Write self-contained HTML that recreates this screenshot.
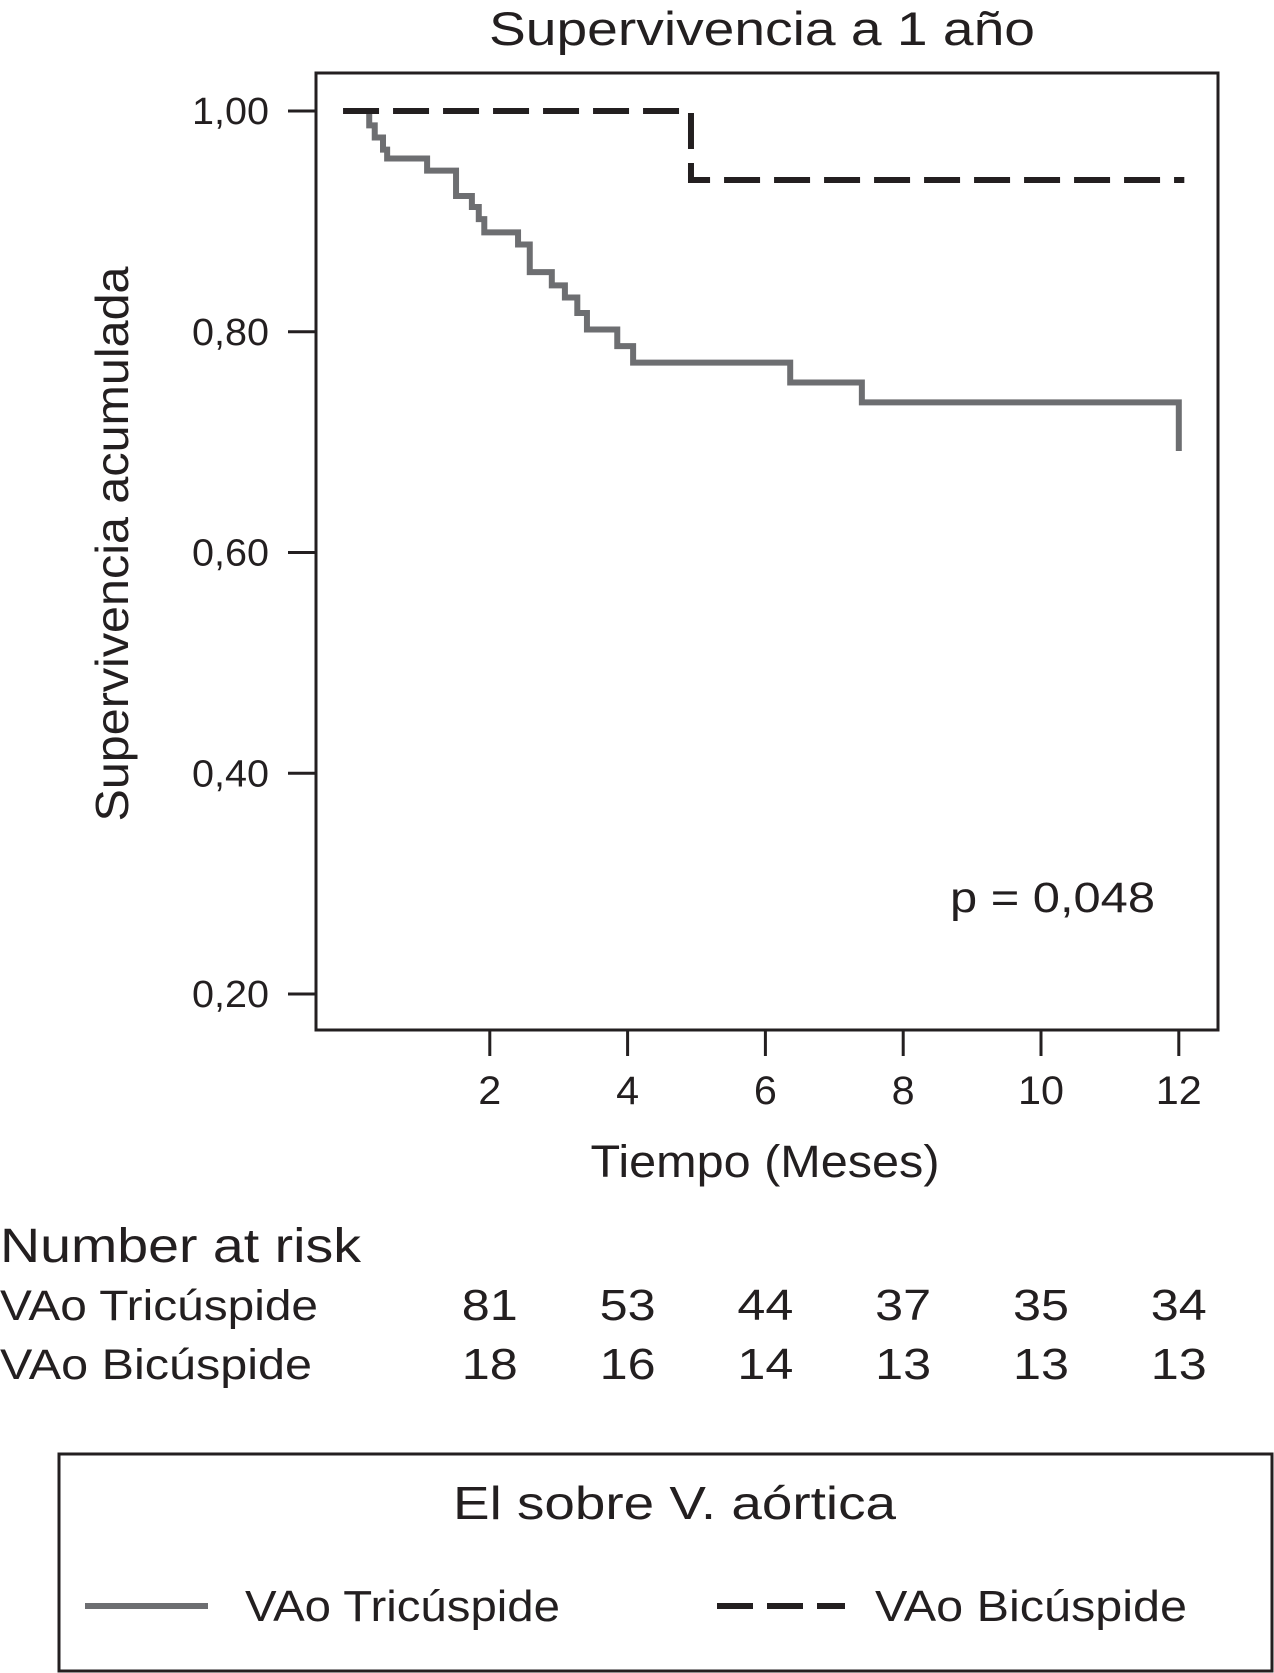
<!DOCTYPE html>
<html><head><meta charset="utf-8"><style>
body{margin:0;background:#fff;}
svg{display:block;font-family:"Liberation Sans",Arial,sans-serif;}
</style></head><body>
<svg width="1274" height="1673" viewBox="0 0 1274 1673">
<text x="762" y="45" font-size="47" text-anchor="middle" textLength="546" lengthAdjust="spacingAndGlyphs" fill="#231f20">Supervivencia a 1 año</text>
<rect x="316" y="73" width="902" height="957" fill="none" stroke="#231f20" stroke-width="3"/>
<g id="yaxis"></g>
<g id="xaxis"></g>
<text transform="translate(128,544) rotate(-90)" font-size="46" text-anchor="middle" textLength="555" lengthAdjust="spacingAndGlyphs" fill="#231f20">Supervivencia acumulada</text>
<text x="765" y="1177" font-size="45" text-anchor="middle" textLength="349" lengthAdjust="spacingAndGlyphs" fill="#231f20">Tiempo (Meses)</text>
<path id="tri" fill="none" stroke="#6d6e71" stroke-width="6"/>
<path id="bic" fill="none" stroke="#231f20" stroke-width="6" stroke-dasharray="36,14"/>
<text x="950" y="912" font-size="43" textLength="205" lengthAdjust="spacingAndGlyphs" fill="#231f20">p = 0,048</text>
<text x="0" y="1262" font-size="48" textLength="361" lengthAdjust="spacingAndGlyphs" fill="#231f20">Number at risk</text>
<text x="0" y="1320" font-size="43" textLength="318" lengthAdjust="spacingAndGlyphs" fill="#231f20">VAo Tricúspide</text>
<text x="0" y="1379" font-size="43" textLength="312" lengthAdjust="spacingAndGlyphs" fill="#231f20">VAo Bicúspide</text>
<g id="risk"></g>
<rect x="59" y="1454" width="1213" height="217" fill="none" stroke="#231f20" stroke-width="3"/>
<text x="453" y="1519" font-size="46" textLength="443" lengthAdjust="spacingAndGlyphs" fill="#231f20">El sobre V. aórtica</text>
<line x1="85" y1="1606" x2="208" y2="1606" stroke="#6d6e71" stroke-width="6"/>
<text x="245" y="1621" font-size="44" textLength="315" lengthAdjust="spacingAndGlyphs" fill="#231f20">VAo Tricúspide</text>
<line x1="717" y1="1606" x2="845" y2="1606" stroke="#231f20" stroke-width="6" stroke-dasharray="36,14"/>
<text x="875" y="1621" font-size="44" textLength="312" lengthAdjust="spacingAndGlyphs" fill="#231f20">VAo Bicúspide</text>
</svg>
<script>
const yTicks=[1.0,0.8,0.6,0.4,0.2];
const yTickLabels=["1,00","0,80","0,60","0,40","0,20"];
const xTicks=[2,4,6,8,10,12];
const triTimes=[0,0.25,0.33,0.45,0.51,1.09,1.51,1.74,1.84,1.92,2.41,2.58,2.90,3.09,3.27,3.41,3.85,4.08,6.36,7.40,12.0];
const triSurv=[1,0.987,0.976,0.965,0.957,0.946,0.923,0.913,0.902,0.890,0.879,0.854,0.842,0.831,0.817,0.802,0.787,0.772,0.754,0.736,0.692];
const triEnd=12.0;
const bicTimes=[-0.13,4.92];
const bicSurv=[1,0.9375];
const bicEnd=12.08;
const riskTri=[81,53,44,37,35,34];
const riskBic=[18,16,14,13,13,13];
const NS="http://www.w3.org/2000/svg";
const x=t=>352+68.9*t;
const y=v=>111+(1-v)*1103.75;
function mk(tag,attrs,parent,txt){const e=document.createElementNS(NS,tag);for(const k in attrs)e.setAttribute(k,attrs[k]);if(txt!==undefined)e.textContent=txt;parent.appendChild(e);return e;}
const ya=document.getElementById('yaxis');
yTicks.forEach((v,i)=>{
 const l=mk('line',{x1:288,x2:316,y1:y(v),y2:y(v),stroke:'#231f20','stroke-width':3},ya);
 
 
 const t=mk('text',{x:269,y:y(v)+13,'font-size':38,'text-anchor':'end',textLength:77,lengthAdjust:'spacingAndGlyphs',fill:'#231f20'},ya,yTickLabels[i]);
 
 
});
const xa=document.getElementById('xaxis');
xTicks.forEach(v=>{
 const l=mk('line',{x1:x(v),x2:x(v),y1:1030,y2:1056,stroke:'#231f20','stroke-width':3},xa);
 
 
 const s=String(v);
 const t=mk('text',{x:x(v),y:1104,'font-size':40,'text-anchor':'middle',textLength:s.length*23,lengthAdjust:'spacingAndGlyphs',fill:'#231f20'},xa,s);
 
 
});
function step(times,surv,end){let d='M'+x(times[0])+','+y(surv[0]);for(let i=1;i<times.length;i++){d+=' H'+x(times[i])+' V'+y(surv[i]);}d+=' H'+x(end);return d;}
document.getElementById('tri').setAttribute('d',step(triTimes,triSurv,triEnd));
document.getElementById('bic').setAttribute('d',step(bicTimes,bicSurv,bicEnd));
const rk=document.getElementById('risk');
xTicks.forEach((v,i)=>{
 const a=mk('text',{x:x(v),y:1320,'font-size':44,'text-anchor':'middle',textLength:56,lengthAdjust:'spacingAndGlyphs',fill:'#231f20'},rk,String(riskTri[i]));
 
 
 const b=mk('text',{x:x(v),y:1379,'font-size':44,'text-anchor':'middle',textLength:56,lengthAdjust:'spacingAndGlyphs',fill:'#231f20'},rk,String(riskBic[i]));
 
 
});
</script>
</body></html>
